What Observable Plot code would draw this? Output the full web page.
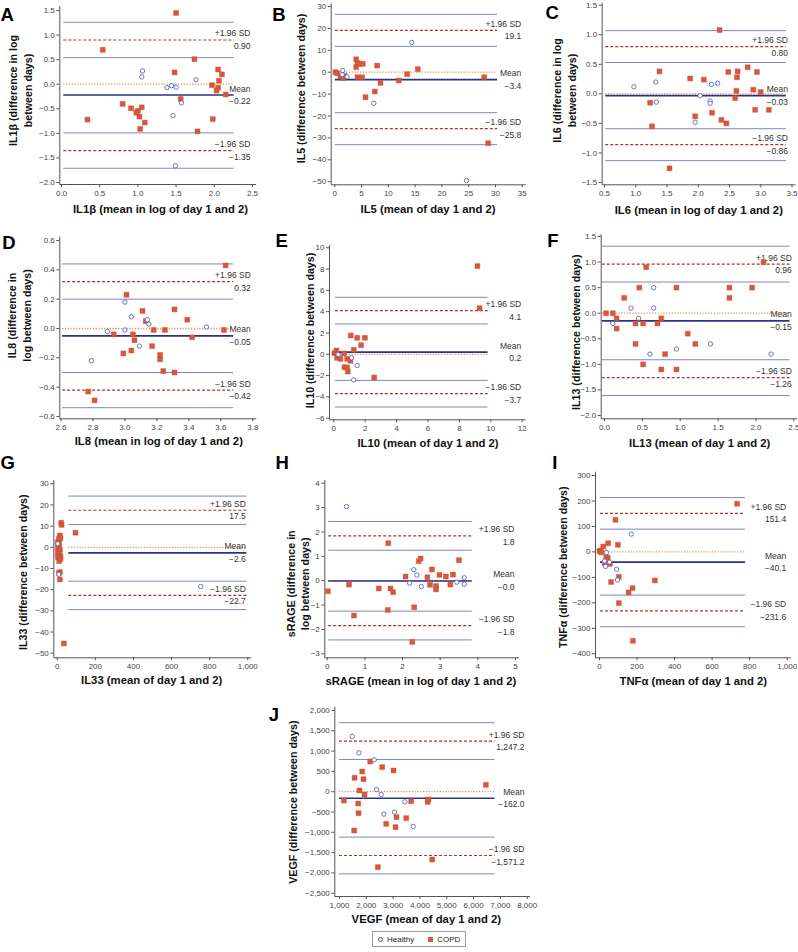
<!DOCTYPE html>
<html>
<head>
<meta charset="utf-8">
<script src="https://cdn.jsdelivr.net/npm/d3@7"></script>
<script src="https://cdn.jsdelivr.net/npm/@observablehq/plot@0.6"></script>
<style>
  html, body { margin: 0; padding: 0; background: #fff; }
  #fig { position: relative; width: 798px; height: 952px; overflow: hidden; font-family: "Liberation Sans", Arial, sans-serif; }
  .cell { position: absolute; }
  .cell svg { display: block; max-width: none !important; }
  #legend { position: absolute; left: 372px; top: 931px; height: 14px; border: 1px solid #999; padding: 0 5px;
            display: flex; align-items: center; font-size: 8px; color: #222; white-space: nowrap; }
  #legend .hc { display: inline-block; width: 3px; height: 3px; border: 1px solid #4a54b3; border-radius: 50%; margin-right: 4px; }
  #legend .cs { display: inline-block; width: 5px; height: 5px; background: #d9583a; margin-right: 4px; margin-left: 14px; }
</style>
</head>
<body>
<div id="fig"></div>
<script>
// ---------------- DATA ----------------
const panelIds = ["A", "B", "C", "D", "E", "F", "G", "H", "I", "J"];

const xTitles = [
  "IL1β (mean in log of day 1 and 2)", "IL5 (mean of day 1 and 2)", "IL6 (mean in log of day 1 and 2)",
  "IL8 (mean in log of day 1 and 2)", "IL10 (mean of day 1 and 2)", "IL13 (mean of day 1 and 2)",
  "IL33 (mean of day 1 and 2)", "sRAGE (mean in log of day 1 and 2)", "TNFα (mean of day 1 and 2)",
  "VEGF (mean of day 1 and 2)"
];
const yTitles = [
  "IL1β (difference in log\nbetween days)", "IL5 (difference between days)", "IL6 (difference in log\nbetween days)",
  "IL8 (difference in\nlog between days)", "IL10 (difference between days)", "IL13 (difference between days)",
  "IL33 (difference between days)", "sRAGE (difference in\nlog between days)", "TNFα (difference between days)",
  "VEGF (difference between days)"
];

const xDomains = [[0, 2.5], [0, 35], [0.5, 3.5], [2.6, 3.8], [0, 12], [0, 2.5], [0, 1000], [0, 5], [0, 1000], [1000, 8000]];
const yDomains = [[-2, 1.5], [-50, 30], [-1.5, 1.5], [-0.6, 0.6], [-6, 10], [-2, 1.5], [-50, 30], [-3, 4], [-400, 300], [-2500, 2000]];

const xTicks = [
  [0, 0.5, 1, 1.5, 2, 2.5], [0, 5, 10, 15, 20, 25, 30, 35], [0.5, 1, 1.5, 2, 2.5, 3, 3.5],
  [2.6, 2.8, 3.0, 3.2, 3.4, 3.6, 3.8], [0, 2, 4, 6, 8, 10, 12], [0, 0.5, 1, 1.5, 2, 2.5],
  [0, 200, 400, 600, 800, 1000], [0, 1, 2, 3, 4, 5], [0, 200, 400, 600, 800, 1000],
  [1000, 2000, 3000, 4000, 5000, 6000, 7000, 8000]
];
const yTicks = [
  [-2, -1.5, -1, -0.5, 0, 0.5, 1, 1.5], [-50, -40, -30, -20, -10, 0, 10, 20, 30], [-1.5, -1, -0.5, 0, 0.5, 1, 1.5],
  [-0.6, -0.4, -0.2, 0, 0.2, 0.4, 0.6], [-6, -4, -2, 0, 2, 4, 6, 8, 10], [-2, -1.5, -1, -0.5, 0, 0.5, 1, 1.5],
  [-50, -40, -30, -20, -10, 0, 10, 20, 30], [-3, -2, -1, 0, 1, 2, 3, 4], [-400, -300, -200, -100, 0, 100, 200, 300],
  [-2500, -2000, -1500, -1000, -500, 0, 500, 1000, 1500, 2000]
];
const xTickFormats = [".1f", "d", ".1f", ".1f", "d", ".1f", ",", "d", ",", ","];
const yTickFormats = [".1f", "d", ".1f", ".1f", "d", ".1f", "d", "d", "d", ","];

// Bland–Altman statistics
const meanDiff = [-0.22, -3.4, -0.03, -0.05, 0.2, -0.15, -2.6, -0.01, -40.1, -162.0];
const upperLoA = [0.90, 19.1, 0.80, 0.32, 4.1, 0.96, 17.5, 1.84, 151.4, 1247.2];
const lowerLoA = [-1.35, -25.8, -0.86, -0.42, -3.7, -1.26, -22.7, -1.84, -231.6, -1571.2];
const loaCI = [0.36, 7.3, 0.27, 0.12, 1.25, 0.35, 6.7, 0.59, 62, 453];
const valueFormats = [".2f", ".1f", ".2f", ".2f", ".1f", ".2f", ".1f", ".1f", ".1f", ",.1f"];
const lineStart = [0.03, 0.1, 0.52, 2.61, 0.1, -0.03, 61, 0.04, 5, 1000];
const lineEnd = [2.26, 30.4, 3.41, 3.68, 9.83, 2.45, 995, 3.85, 778, 6800];

// points [mean, difference]
const A_copd = [[1.50,1.45],[0.54,0.70],[1.74,0.51],[1.48,0.24],[2.05,0.30],[2.10,0.20],[2.06,0.07],[1.97,-0.02],[2.05,-0.07],[2.03,-0.13],[2.15,-0.21],[1.56,-0.30],[0.80,-0.40],[0.91,-0.49],[1.05,-0.47],[1.00,-0.54],[0.98,-0.58],[1.02,-0.66],[1.09,-0.78],[1.03,-0.91],[0.34,-0.72],[1.98,-0.71],[1.78,-0.96]];
const A_healthy = [[1.06,0.27],[1.05,0.15],[1.76,0.09],[1.38,-0.07],[1.44,-0.03],[1.50,-0.06],[1.57,-0.38],[1.46,-0.64],[1.49,-1.66]];

const B_copd = [[0.12,0.0],[0.44,-0.46],[1.06,-1.98],[1.56,-2.59],[1.81,-1.67],[3.99,5.9],[3.99,2.3],[4.23,4.1],[4.61,3.8],[5.23,3.8],[4.23,-2.3],[5.11,-2.3],[5.73,-11.4],[7.47,-8.8],[7.91,3.0],[8.53,-4.9],[11.96,-3.8],[13.51,-0.9],[15.5,1.4],[27.9,-2.3],[28.64,-32.4]];
const B_healthy = [[1.49,0.8],[1.37,-1.1],[2.3,-2.1],[14.38,13.6],[7.29,-14.2],[24.6,-49.5]];

const C_copd = [[2.34,1.08],[1.38,0.38],[1.87,0.26],[2.09,0.24],[1.23,-0.15],[1.26,-0.55],[1.54,-1.26],[1.95,-0.38],[2.22,-0.32],[2.37,-0.44],[2.45,-0.50],[2.48,0.37],[2.63,0.38],[2.62,0.28],[2.61,0.05],[2.59,-0.07],[2.79,0.45],[2.88,0.07],[2.94,0.37],[2.91,-0.27],[3.00,0.03],[3.13,-0.27]];
const C_healthy = [[0.97,0.12],[1.32,0.20],[1.33,-0.14],[1.95,-0.48],[2.03,-0.03],[2.19,-0.12],[2.19,-0.16],[2.21,0.16],[2.31,0.18]];

const D_copd = [[3.63,0.43],[2.77,-0.43],[2.81,-0.49],[3.01,0.23],[3.11,0.12],[3.13,0.05],[3.31,0.13],[3.39,0.06],[3.42,-0.06],[3.62,-0.01],[3.18,-0.01],[3.25,-0.01],[2.93,-0.04],[3.05,-0.04],[3.06,-0.08],[3.17,-0.12],[2.99,-0.17],[3.04,-0.15],[3.22,-0.18],[3.22,-0.21],[3.24,-0.29],[3.31,-0.30]];
const D_healthy = [[3.00,0.18],[3.04,0.08],[3.14,0.06],[3.15,0.03],[2.89,-0.02],[3.00,-0.01],[3.09,-0.12],[2.79,-0.22],[3.51,0.01]];

const E_copd = [[9.15,8.28],[9.28,4.33],[1.08,1.77],[1.49,1.55],[1.98,1.55],[1.74,0.86],[1.27,0.42],[0.17,0.36],[0.04,0.11],[0.21,-0.33],[0.42,-0.43],[0.64,0.08],[0.68,-1.21],[0.85,-1.24],[0.89,-1.62],[0.85,-0.43],[1.06,-0.61],[2.57,-2.18]];
const E_healthy = [[0.28,-0.02],[1.13,-0.33],[1.49,-1.05],[1.27,-2.40]];

const F_copd = [[0.02,0.0],[0.11,0.0],[0.16,-0.1],[0.16,-0.3],[0.26,0.3],[0.46,0.5],[0.55,0.9],[0.41,-0.2],[0.41,-0.6],[0.51,-0.2],[0.51,-1.0],[0.70,-0.2],[0.75,-0.1],[0.75,-1.1],[0.80,-0.8],[0.95,0.5],[0.95,-1.1],[1.10,-0.4],[1.20,-0.6],[1.65,0.5],[1.65,0.3],[1.95,0.5],[2.10,1.0]];
const F_healthy = [[0.11,-0.2],[0.35,0.1],[0.45,-0.1],[0.65,0.5],[0.65,0.1],[0.60,-0.8],[0.95,-0.7],[1.40,-0.6],[2.20,-0.8]];

const G_copd = [[9,-0.2],[3,2.4],[9,4.0],[14,5.6],[21,11.6],[23,10.6],[17,4.3],[96,6.9],[3,0.1],[14,-1.2],[9,-3.1],[17,-4.2],[3,-4.6],[10,-6.5],[17,-5.4],[14,-11.7],[9,-12.2],[14,-15.2],[35,-45.4],[3,-2.3],[10,1.7]];
const G_healthy = [[3,1.7],[8,-12.8],[753,-18.5]];

const H_copd = [[0.02,-0.43],[0.58,-0.16],[0.71,-1.43],[1.37,-0.32],[1.62,1.54],[1.61,-1.20],[1.68,-0.32],[1.75,-0.47],[2.08,0.17],[2.31,-1.09],[2.26,-2.51],[2.43,0.80],[2.48,0.91],[2.78,0.46],[2.66,0.14],[2.73,-0.17],[2.89,-0.22],[2.89,-0.36],[2.98,0.24],[3.15,0.17],[3.27,-0.16],[3.34,0.25],[3.50,0.84]];
const H_healthy = [[0.51,3.04],[2.19,-0.10],[2.30,0.45],[2.38,0.23],[2.50,-0.24],[3.44,-0.06],[3.64,0.12],[3.64,-0.14]];

const I_copd = [[733,189],[0,3],[5,5],[9,-2],[20,21],[85,126],[46,34],[98,28],[36,-21],[44,-23],[27,-44],[55,-47],[62,-118],[103,-98],[295,-112],[176,-142],[155,-159],[103,-201],[178,-349]];
const I_healthy = [[169,70],[37,-2],[91,-68],[96,-110],[27,-36],[32,-57],[53,-40]];

const J_copd = [[1162,-217],[1560,342],[1547,-956],[1846,497],[1896,309],[1697,-291],[1709,-529],[1746,30],[1933,-69],[2144,744],[2592,604],[3015,522],[2430,-1858],[2741,-791],[3090,-873],[3127,-627],[3488,-652],[3674,-233],[4290,-250],[4320,-190],[4458,-1670],[6460,169]];
const J_healthy = [[1473,1360],[1721,957],[2294,785],[2380,54],[2555,-69],[2654,-553],[3052,-504],[3438,-250],[3749,-857]];

const copdData = [A_copd, B_copd, C_copd, D_copd, E_copd, F_copd, G_copd, H_copd, I_copd, J_copd];
const healthyData = [A_healthy, B_healthy, C_healthy, D_healthy, E_healthy, F_healthy, G_healthy, H_healthy, I_healthy, J_healthy];

// ---------------- LAYOUT (pixels, page coordinates) ----------------
const geom = [
  {left:0,   top:0,   width:265, height:232, axisX:59.3,  xr0:61,    xr1:252,   yTop:6,     yr0:10,    yr1:182,   axisY:184,   labelDx:-6,  letter:[0,20],      yT:[19.5,90],    xT:[160,212]},
  {left:265, top:0,   width:265, height:232, axisX:330.7, xr0:334.3, xr1:521.7, yTop:3.3,   yr0:6,     yr1:181.2, axisY:184.3, labelDx:-5,  letter:[271.7,20],  yT:[300,88],     xT:[427.5,212]},
  {left:530, top:0,   width:268, height:232, axisX:601.7, xr0:604,   xr1:791.5, yTop:2.7,   yr0:4.7,   yr1:182,   axisY:184.3, labelDx:-8,  letter:[545,18.3],  yT:[563,90],     xT:[698.3,213]},
  {left:0,   top:228, width:265, height:232, axisX:59.3,  xr0:60.5,  xr1:252.3, yTop:236.7, yr0:240,   yr1:416,   axisY:418.3, labelDx:-6,  letter:[1.7,248.3], yT:[18.3,315],   xT:[158.3,444.3]},
  {left:265, top:228, width:265, height:232, axisX:329,   xr0:333.3, xr1:521.7, yTop:245,   yr0:247.3, yr1:417.7, axisY:419.3, labelDx:-5,  letter:[275,246.7], yT:[308.3,330],  xT:[427.5,446]},
  {left:530, top:228, width:268, height:232, axisX:600.7, xr0:604,   xr1:793.3, yTop:234,   yr0:236,   yr1:415,   axisY:418.3, labelDx:-6,  letter:[546.7,246.7], yT:[575,331.7], xT:[699.2,446]},
  {left:0,   top:452, width:265, height:236, axisX:53.3,  xr0:56.7,  xr1:247.3, yTop:480,   yr0:483.3, yr1:652.7, axisY:657.3, labelDx:-6,  letter:[0,468],     yT:[21.7,571.7], xT:[151.2,683.3]},
  {left:265, top:452, width:265, height:236, axisX:324.3, xr0:326.7, xr1:515,   yTop:480,   yr0:482.7, yr1:653.3, axisY:657.3, labelDx:-5,  letter:[275,468],   yT:[296.7,583.3], xT:[420.3,684]},
  {left:530, top:452, width:268, height:236, axisX:595,   xr0:599,   xr1:786.7, yTop:471.7, yr0:475,   yr1:653.3, axisY:657.3, labelDx:-5,  letter:[551.7,468], yT:[561.7,566.7], xT:[692.8,684]},
  {left:265, top:700, width:265, height:228, axisX:334.3, xr0:339,   xr1:526.7, yTop:706.7, yr0:710,   yr1:892.7, axisY:896,   labelDx:-6,  letter:[268.3,720], yT:[291.7,801.7], xT:[425.8,922]}
];

const C = {
  axis: "#555", tick: "#444", ci: "#7d86c2", loa: "#b8302c", zero: "#f08a4c", mean: "#2a3386",
  copd: "#d9583a", healthy: "#4a54b3", label: "#333", title: "#111"
};
const FONT = "'Liberation Sans', Arial, Helvetica, sans-serif";

function signedFormat(spec) {
  const f = d3.format(spec);
  return v => (v < 0 ? "−" : "") + f(Math.abs(v));
}

function makePanel(i) {
  const g = geom[i];
  const W = g.width, H = g.height;
  const marginLeft = g.axisX - g.left;
  const marginRight = Math.max(0, g.left + W - (g.xr1 + 4));
  const insetRight = g.left + W - marginRight - g.xr1;
  const marginTop = g.yTop - g.top;
  const marginBottom = g.top + H - g.axisY;
  const insetLeft = g.xr0 - g.axisX;
  const insetTop = g.yr0 - g.yTop;
  const insetBottom = g.axisY - g.yr1;

  const x1 = lineStart[i], x2 = lineEnd[i];
  const ci = loaCI[i];
  const ciLines = [upperLoA[i] + ci, upperLoA[i] - ci, lowerLoA[i] + ci, lowerLoA[i] - ci].map(y => ({y, x1, x2}));
  const loaLines = [upperLoA[i], lowerLoA[i]].map(y => ({y, x1, x2}));
  const zeroLine = [{y: 0, x1, x2}];
  const meanLine = [{y: meanDiff[i], x1, x2}];

  const vf = signedFormat(valueFormats[i]);
  const tagsAbove = [
    {y: upperLoA[i], t: "+1.96 SD"}, {y: meanDiff[i], t: "Mean"}, {y: lowerLoA[i], t: "−1.96 SD"}
  ];
  const tagsBelow = [upperLoA[i], meanDiff[i], lowerLoA[i]].map(y => ({y, t: vf(y)}));

  const rel = ([ax, ay]) => ({dx: ax - g.axisX, dy: ay - g.yTop});
  const L = rel(g.letter), YT = rel(g.yT), XT = rel(g.xT);

  const fx = signedFormat(xTickFormats[i]);
  const fy = signedFormat(yTickFormats[i]);

  const plot = Plot.plot({
    width: W, height: H,
    marginLeft, marginRight, marginTop, marginBottom,
    x: {domain: xDomains[i], insetLeft, insetRight},
    y: {domain: yDomains[i], insetTop, insetBottom},
    style: {background: "none", overflow: "visible", fontFamily: FONT, fontSize: "8px", color: C.tick},
    marks: [
      Plot.ruleX([xDomains[i][0]], {dx: -insetLeft, stroke: C.axis, strokeWidth: 1}),
      Plot.ruleY([yDomains[i][0]], {dy: insetBottom, stroke: C.axis, strokeWidth: 1}),
      Plot.axisX(xTicks[i], {tickFormat: fx, tickSize: 3, tickPadding: 3, label: null, fontSize: 8, stroke: C.axis, fill: C.tick}),
      Plot.axisY(yTicks[i], {tickFormat: fy, tickSize: 3, tickPadding: 2, label: null, fontSize: 8, stroke: C.axis, fill: C.tick}),
      Plot.ruleY(ciLines, {y: "y", x1: "x1", x2: "x2", stroke: C.ci, strokeWidth: 1}),
      Plot.ruleY(loaLines, {y: "y", x1: "x1", x2: "x2", stroke: C.loa, strokeWidth: 1.2, strokeDasharray: "3,2"}),
      Plot.ruleY(zeroLine, {y: "y", x1: "x1", x2: "x2", stroke: C.zero, strokeWidth: 1.3, strokeDasharray: "1.2,1.6"}),
      Plot.ruleY(meanLine, {y: "y", x1: "x1", x2: "x2", stroke: C.mean, strokeWidth: 1.6}),
      Plot.text(tagsAbove, {y: "y", text: "t", frameAnchor: "right", textAnchor: "end", lineAnchor: "bottom",
        dx: g.labelDx, dy: -3.5, fontSize: 8.5, fill: C.label}),
      Plot.text(tagsBelow, {y: "y", text: "t", frameAnchor: "right", textAnchor: "end", lineAnchor: "top",
        dx: g.labelDx, dy: 3, fontSize: 8.5, fill: C.label}),
      Plot.dot(copdData[i], {x: d => d[0], y: d => d[1], symbol: "square", r: 2.8, fill: C.copd, stroke: "#c44a2e", strokeWidth: 0.4}),
      Plot.dot(healthyData[i], {x: d => d[0], y: d => d[1], symbol: "circle", r: 2.2, fill: "white", stroke: C.healthy, strokeWidth: 0.8}),
      Plot.text([panelIds[i]], {text: d => d, frameAnchor: "top-left", dx: L.dx, dy: L.dy, textAnchor: "start",
        lineAnchor: "bottom", fontSize: 18.5, fontWeight: "bold", fill: "#000"}),
      Plot.text([yTitles[i]], {text: d => d, frameAnchor: "top-left", dx: YT.dx, dy: YT.dy, rotate: -90,
        textAnchor: "middle", lineAnchor: "middle", lineHeight: 1.4, fontSize: 10.7, fontWeight: "bold", fill: C.title}),
      Plot.text([xTitles[i]], {text: d => d, frameAnchor: "top-left", dx: XT.dx, dy: XT.dy,
        textAnchor: "middle", lineAnchor: "bottom", fontSize: 11.3, fontWeight: "bold", fill: C.title})
    ]
  });

  const cell = document.createElement("div");
  cell.className = "cell";
  cell.style.left = g.left + "px";
  cell.style.top = g.top + "px";
  cell.style.width = W + "px";
  cell.style.height = H + "px";
  cell.appendChild(plot);
  return cell;
}

const fig = document.getElementById("fig");
panelIds.forEach((_, i) => fig.appendChild(makePanel(i)));

const legend = document.createElement("div");
legend.id = "legend";
legend.innerHTML = '<span class="hc"></span><span>Healthy</span><span class="cs"></span><span>COPD</span>';
fig.appendChild(legend);
</script>
</body>
</html>
